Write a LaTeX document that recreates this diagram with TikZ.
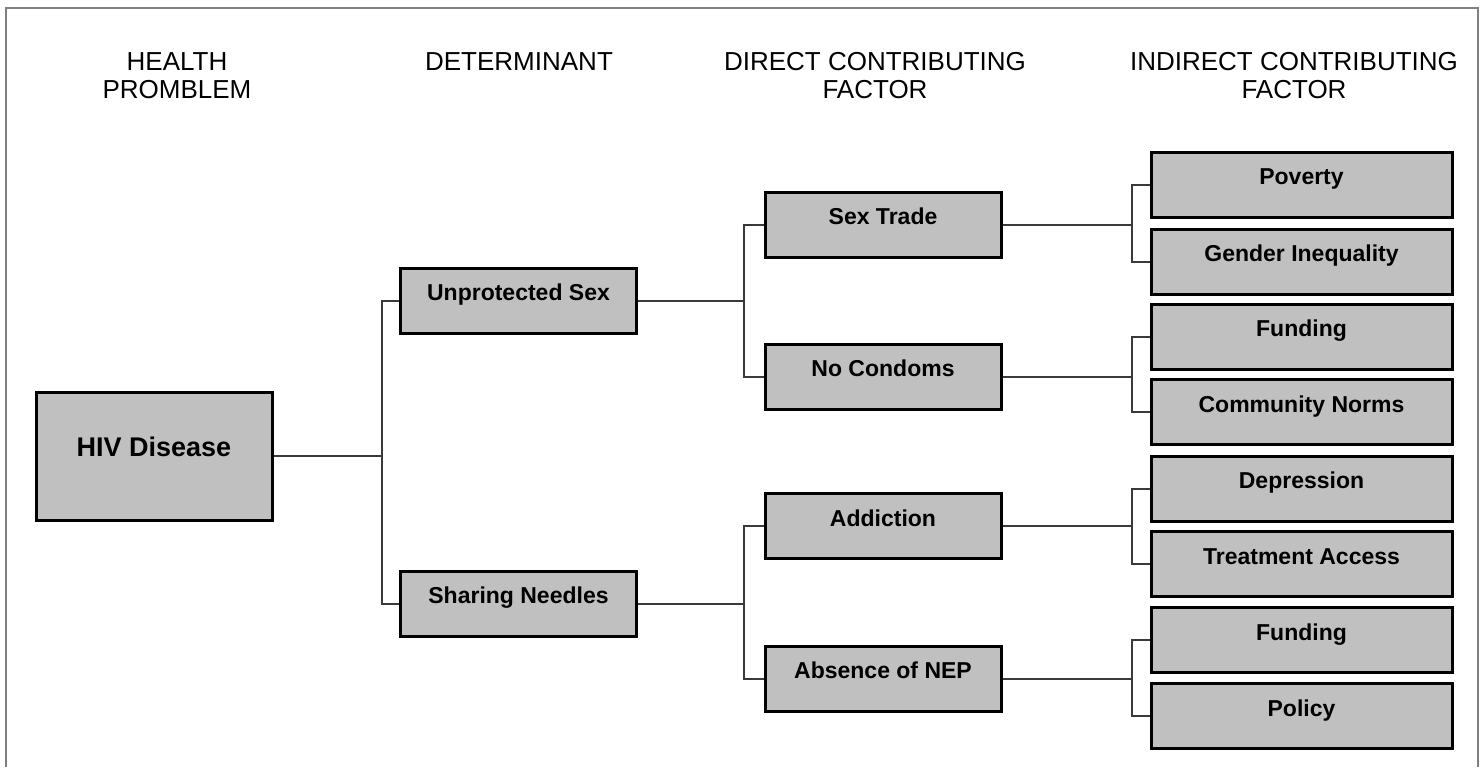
\documentclass[tikz,border=0pt]{standalone}
\usepackage{fontspec}
\setmainfont{Liberation Sans}
\definecolor{boxgray}{HTML}{C0C0C0}
\definecolor{linkgray}{HTML}{3A3A3A}
\tikzset{
  box/.style={draw=black, line width=1.5pt, fill=boxgray, minimum width=118pt,
    minimum height=32.5pt, inner sep=0pt, text height=1.2ex, text depth=1.2ex,
    font=\fontsize{11.5}{13}\selectfont\bfseries},
  widebox/.style={box, minimum width=150.5pt},
  head/.style={align=center, font=\fontsize{13}{14}\selectfont},
  link/.style={draw=linkgray, line width=1pt},
}
\begin{document}
\begin{tikzpicture}[x=0.5pt, y=-0.5pt]
  \useasboundingbox (0,0) rectangle (1484,767);
  \draw[gray, line width=1pt] (6,767) -- (6,8) -- (1478,8) -- (1478,767);

  % column headings
  \node[head] (hhealth) at (177,76) {HEALTH\\PROMBLEM};
  \node[head] (hdet) at (519,62) {DETERMINANT};
  \node[head] (hdirect) at (875,76) {DIRECT CONTRIBUTING\\FACTOR};
  \node[head] (hindirect) at (1294,76) {INDIRECT CONTRIBUTING\\FACTOR};

  % boxes
  \node[box, minimum height=64pt, font=\fontsize{13.5}{15}\selectfont\bfseries] (hiv) at (154,456) {HIV Disease};
  \node[box] (unprot) at (518.5,300.5) {Unprotected Sex};
  \node[box] (needles) at (518.5,603.5) {Sharing Needles};
  \node[box] (sextrade) at (883,224.5) {Sex Trade};
  \node[box] (condoms) at (883,376.5) {No Condoms};
  \node[box] (addict) at (883,526) {Addiction};
  \node[box] (nep) at (883,678.5) {Absence of NEP};
  \node[widebox] (poverty) at (1301.5,184.5) {Poverty};
  \node[widebox] (gender) at (1301.5,261.5) {Gender Inequality};
  \node[widebox] (funda) at (1301.5,336.5) {Funding};
  \node[widebox] (norms) at (1301.5,412) {Community Norms};
  \node[widebox] (depress) at (1301.5,488.5) {Depression};
  \node[widebox] (treat) at (1301.5,564) {Treatment Access};
  \node[widebox] (fundb) at (1301.5,640) {Funding};
  \node[widebox] (policy) at (1301.5,716) {Policy};

  % forks
  \foreach \p/\a/\b/\d in {hiv/unprot/needles/108, unprot/sextrade/condoms/106,
      needles/addict/nep/106, sextrade/poverty/gender/129, condoms/funda/norms/129,
      addict/depress/treat/129, nep/fundb/policy/129}{
    \path (\p.east) ++(\d,0) coordinate (\p-j);
    \draw[link] (\p.east) -- (\p-j);
    \draw[link] (\a.west) -| (\p-j) |- (\b.west);
  }
\end{tikzpicture}
\end{document}
